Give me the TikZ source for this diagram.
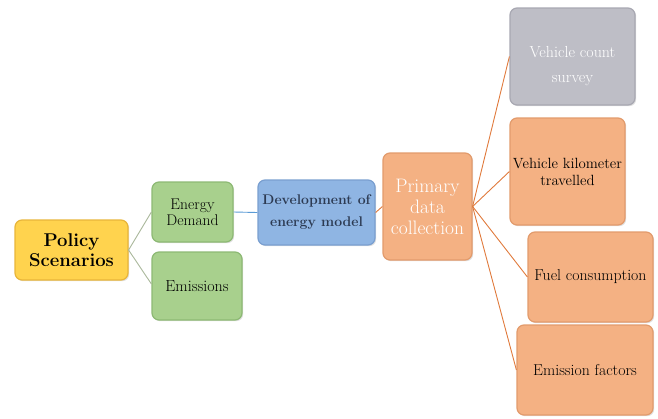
\documentclass[tikz,border=0pt]{standalone}
\usepackage{fontspec}
\usetikzlibrary{shadows}
\definecolor{yel}{HTML}{FFD34E}
\definecolor{yelb}{HTML}{E8B53A}
\definecolor{grn}{HTML}{A8D08D}
\definecolor{grnb}{HTML}{8DB974}
\definecolor{blu}{HTML}{8FB5E3}
\definecolor{blub}{HTML}{7A9FD0}
\definecolor{org}{HTML}{F4B183}
\definecolor{orgb}{HTML}{E29B6C}
\definecolor{gry}{HTML}{BEBEC6}
\definecolor{gryb}{HTML}{A8A8B2}
\definecolor{devtxt}{HTML}{2C3A52}
\definecolor{orgline}{HTML}{E07A3C}
\definecolor{grnline}{HTML}{A9B79A}
\definecolor{blueline}{HTML}{5B9BD5}
\tikzset{
  box/.style={draw, line width=1.2pt, rounded corners=7pt, align=center, inner sep=2pt,
    drop shadow={shadow xshift=1.2pt, shadow yshift=-1.2pt, opacity=0.25}},
  conn/.style={line width=0.9pt},
}
\begin{document}
\begin{tikzpicture}[x=1pt,y=-1pt]
\useasboundingbox (0,0) rectangle (658,418);
\node[box, fill=yel, draw=yelb, minimum width=113pt, minimum height=60pt, font=\fontsize{18.5}{20}\selectfont\bfseries]
  (policy) at (71.5,250) {Policy\\Scenarios};
\node[box, fill=grn, draw=grnb, minimum width=81pt, minimum height=60pt, font=\fontsize{15.5}{16}\selectfont]
  (energy) at (192.5,212) {Energy\\Demand};
\node[box, fill=grn, draw=grnb, minimum width=90pt, minimum height=68pt, font=\fontsize{16}{17}\selectfont]
  (emis) at (197,286) {Emissions};
\node[box, fill=blu, draw=blub, minimum width=117pt, minimum height=65pt, text=devtxt, font=\fontsize{14}{22}\selectfont\bfseries]
  (dev) at (316.5,212.5) {Development of\\energy model};
\node[box, fill=org, draw=orgb, minimum width=89pt, minimum height=107pt, text=white, font=\fontsize{19.5}{21}\selectfont]
  (prim) at (427.5,206.5) {Primary\\data\\collection};
\node[box, fill=gry, draw=gryb, minimum width=125pt, minimum height=97pt,
  label={[yshift=-10pt, text=white, align=center, font=\fontsize{16}{25}\selectfont]center:Vehicle count\\survey}]
  (vcs) at (572.5,56.5) {};
\node[box, fill=org, draw=orgb, minimum width=115pt, minimum height=107pt, font=\fontsize{14.8}{17}\selectfont]
  (vkt) at (567.5,171.5) {Vehicle kilometer\\travelled};
\node[box, fill=org, draw=orgb, minimum width=125pt, minimum height=90pt, font=\fontsize{15.8}{17}\selectfont]
  (fuel) at (590.5,277) {Fuel consumption};
\node[box, fill=org, draw=orgb, minimum width=136pt, minimum height=90pt, font=\fontsize{15.8}{17}\selectfont]
  (ef) at (585,370) {Emission factors};
\coordinate (pr) at (policy.east);
\draw[conn, grnline] (pr) -- ([yshift=0pt]energy.west);
\draw[conn, grnline] (pr) -- ([yshift=2pt]emis.west);
\draw[conn, blueline] (energy.east) -- (dev.west);
\draw[conn, orgline] (dev.east) -- (prim.west);
\coordinate (pe) at (prim.east);
\draw[conn, orgline] (pe) -- (vcs.west);
\draw[conn, orgline] (pe) -- (vkt.west);
\draw[conn, orgline] (pe) -- (fuel.west);
\draw[conn, orgline] (pe) -- (ef.west);
\end{tikzpicture}
\end{document}
